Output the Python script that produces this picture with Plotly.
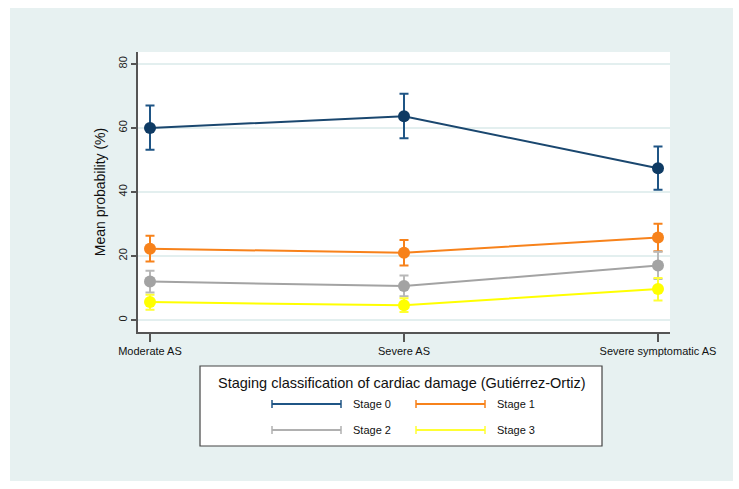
import plotly.graph_objects as go

categories = ["Moderate AS", "Severe AS", "Severe symptomatic AS"]
series_names = ["Stage 0", "Stage 1", "Stage 2", "Stage 3"]
stage0_mean = [60.0, 63.7, 47.4]
stage0_lo = [53.2, 56.8, 40.7]
stage0_hi = [67.0, 70.7, 54.2]
stage1_mean = [22.3, 21.0, 25.8]
stage1_lo = [18.3, 17.0, 21.5]
stage1_hi = [26.3, 25.0, 30.1]
stage2_mean = [12.0, 10.6, 17.0]
stage2_lo = [8.6, 7.4, 12.8]
stage2_hi = [15.4, 13.9, 21.3]
stage3_mean = [5.6, 4.6, 9.7]
stage3_lo = [3.2, 2.5, 6.1]
stage3_hi = [7.9, 6.8, 13.1]
y_ticks = [0, 20, 40, 60, 80]

colors = ["#1a476f", "#f7821b", "#a3a3a3", "#ffff00"]
marker_colors = ["#0f3b64", "#f7821b", "#a3a3a3", "#ffff00"]
err_colors = ["#1f5585", "#f7821b", "#b8b8b8", "#ffff33"]

W, H = 739, 489
L, R, T, B = 138, 670, 52, 332  # plot area pixels

means = [stage0_mean, stage1_mean, stage2_mean, stage3_mean]
los = [stage0_lo, stage1_lo, stage2_lo, stage3_lo]
his = [stage0_hi, stage1_hi, stage2_hi, stage3_hi]

xpos = list(range(len(categories)))
fig = go.Figure()
for i in range(4):
    m, lo, hi = means[i], los[i], his[i]
    fig.add_trace(go.Scatter(
        x=xpos, y=m, mode="lines+markers", name=series_names[i],
        line=dict(color=colors[i], width=2),
        marker=dict(color=marker_colors[i], size=12),
        error_y=dict(type="data", symmetric=False,
                     array=[h - v for h, v in zip(hi, m)],
                     arrayminus=[v - l for v, l in zip(m, lo)],
                     color=err_colors[i], thickness=2, width=4.5),
        showlegend=False,
    ))

def px_x(p):
    return (p - L) / (R - L)

def px_y(p):
    return (B - p) / (B - T)

shapes = [
    dict(type="rect", xref="paper", yref="paper", x0=px_x(10), x1=px_x(733),
         y0=px_y(481), y1=px_y(8), fillcolor="#e7f1f1", line=dict(width=0), layer="below"),
    dict(type="rect", xref="paper", yref="paper", x0=0, x1=1, y0=0, y1=1,
         fillcolor="white", line=dict(width=0), layer="below"),
    dict(type="rect", xref="paper", yref="paper", x0=px_x(200), x1=px_x(602),
         y0=px_y(446), y1=px_y(366), fillcolor="white",
         line=dict(color="#444444", width=1.2), layer="below"),
]
annotations = [
    dict(xref="paper", yref="paper", x=px_x(401), y=px_y(383), text="Staging classification of cardiac damage (Gutiérrez-Ortiz)",
         showarrow=False, font=dict(family="Liberation Sans, Arial", size=14.5, color="#111111"),
         xanchor="center", yanchor="middle"),
]
leg_pos = [(272, 341, 404), (416, 485, 404), (272, 341, 430), (416, 485, 430)]
for i, (x0, x1, yy) in enumerate(leg_pos):
    c = err_colors[i] if i != 2 else "#b0b0b0"
    shapes.append(dict(type="line", xref="paper", yref="paper", x0=px_x(x0), x1=px_x(x1),
                       y0=px_y(yy), y1=px_y(yy), line=dict(color=c, width=2)))
    for xe in (x0, x1):
        shapes.append(dict(type="line", xref="paper", yref="paper", x0=px_x(xe), x1=px_x(xe),
                           y0=px_y(yy - 4), y1=px_y(yy + 4), line=dict(color=c, width=1.5)))
    annotations.append(dict(xref="paper", yref="paper", x=px_x(x1 + 10), y=px_y(yy),
                            text=series_names[i], showarrow=False, xanchor="left", yanchor="middle",
                            font=dict(family="Liberation Sans, Arial", size=11, color="#111111")))

fig.update_layout(
    width=W, height=H,
    margin=dict(l=L, r=W - R, t=T, b=H - B),
    paper_bgcolor="white", plot_bgcolor="white",
    shapes=shapes, annotations=annotations,
    font=dict(family="Liberation Sans, Arial", color="#111111"),
    xaxis=dict(range=[-12 / 254, 2 + 12 / 254], tickvals=xpos, ticktext=categories,
               showgrid=False, zeroline=False, showline=True, linecolor="#555555", linewidth=1.5,
               ticks="outside", ticklen=8, tickwidth=1.5, tickcolor="#555555",
               tickfont=dict(size=11, color="#111111")),
    yaxis=dict(range=[-12 / 3.2, 80 + 12 / 3.2], tickvals=y_ticks, tickangle=-90,
               showgrid=True, gridcolor="#e3efef", gridwidth=1.5, zeroline=False,
               showline=True, linecolor="#555555", linewidth=1.5,
               ticks="outside", ticklen=5, tickwidth=1.5, tickcolor="#555555",
               tickfont=dict(size=11, color="#222222"),
               title=dict(text="Mean probability (%)", font=dict(size=14, color="#111111"), standoff=8)),
)

fig.write_html("out.html")
